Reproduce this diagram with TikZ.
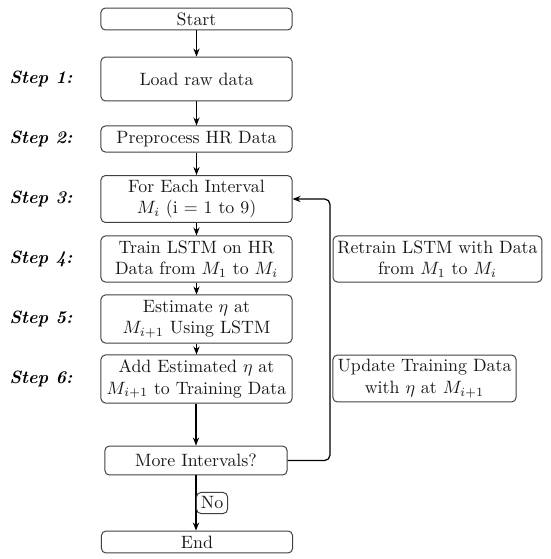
\documentclass[tikz,border=0pt]{standalone}
\usetikzlibrary{arrows.meta}
\begin{document}
\begin{tikzpicture}[x=0.56pt,y=-0.56pt,
  box/.style={draw=black!75, line width=0.55pt, rounded corners=2.5pt, align=center, inner sep=1pt, font=\normalsize, text=black!90},
  mainbox/.style={box, minimum width=107pt},
  steplabel/.style={font=\bfseries\itshape, anchor=center},
  arr/.style={-{Stealth[length=4.5pt,width=3.5pt]}, line width=0.7pt, black}]
\useasboundingbox (0,0) rectangle (550,559);
\node[mainbox, minimum height=12.3pt] (start) at (196.5,19) {Start};
\node[mainbox, minimum height=24.6pt] (s1) at (196.5,79) {Load raw data};
\node[mainbox, minimum height=14.6pt] (s2) at (196.5,139) {Preprocess HR Data};
\node[mainbox, minimum height=26.3pt] (s3) at (196.5,199) {For Each Interval\\$M_i$ (i = 1 to 9)};
\node[mainbox, minimum height=25.8pt] (s4) at (196.5,259) {Train LSTM on HR\\Data from $M_1$ to $M_i$};
\node[mainbox, minimum height=26.9pt] (s5) at (196.5,319) {Estimate $\eta$ at\\$M_{i+1}$ Using LSTM};
\node[mainbox, minimum height=26.9pt] (s6) at (196.5,379) {Add Estimated $\eta$ at\\$M_{i+1}$ to Training Data};
\node[box, minimum width=102pt, minimum height=16.2pt] (more) at (196,460.5) {More Intervals?};
\node[mainbox, minimum height=12.3pt] (end) at (197,542) {End};
\node[box, minimum width=117pt, minimum height=25.8pt] (retrain) at (437.5,259) {Retrain LSTM with Data\\from $M_1$ to $M_i$};
\node[box, minimum width=102.5pt, minimum height=26.3pt] (update) at (424.5,378.5) {Update Training Data\\with $\eta$ at $M_{i+1}$};

\node[steplabel] (l1) at (41,79) {Step 1:};
\node[steplabel] (l2) at (41,139) {Step 2:};
\node[steplabel] (l3) at (41,199) {Step 3:};
\node[steplabel] (l4) at (41,259) {Step 4:};
\node[steplabel] (l5) at (41,319) {Step 5:};
\node[steplabel] (l6) at (41,379) {Step 6:};

\draw[arr] (start) -- (s1);
\draw[arr] (s1) -- (s2);
\draw[arr] (s2) -- (s3);
\draw[arr] (s3) -- (s4);
\draw[arr] (s4) -- (s5);
\draw[arr] (s5) -- (s6);
\draw[arr] (s6.south -| more.north) -- (more.north);
\draw[arr] (more.south) -- node[box, anchor=west, minimum width=17.4pt, minimum height=11.8pt] (no) {No} (end.north -| more.south);
\coordinate (loop) at (330,0);
\draw[arr, rounded corners=3pt] (more.east) -| (loop |- s3.east) -- (s3.east);
\end{tikzpicture}
\end{document}
